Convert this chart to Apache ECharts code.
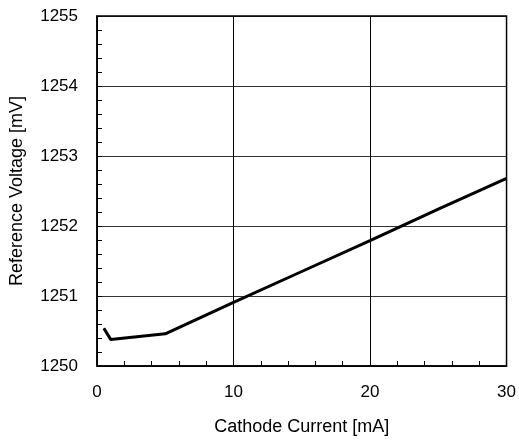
<!DOCTYPE html>
<html><head><meta charset="utf-8">
<script src="https://cdn.jsdelivr.net/npm/echarts@6/dist/echarts.min.js"></script>
<style>html,body{margin:0;padding:0;background:#fff}#c{width:519px;height:441px}</style>
</head><body><div id="c"></div>
<script>
var currentMA = [0.5, 1, 5, 10, 15, 20, 25, 30];
var voltageMV = [1250.54, 1250.38, 1250.46, 1250.91, 1251.35, 1251.79, 1252.24, 1252.68];
var xTitle = 'Cathode Current [mA]';
var yTitle = 'Reference Voltage [mV]';

var chart = echarts.init(document.getElementById('c'));
var font = 'Arial, "Liberation Sans", sans-serif';
chart.setOption({
  animation: false,
  grid: {left: 97, right: 12, top: 16, bottom: 74, show: true, borderColor: '#000', borderWidth: 1.5},
  xAxis: {
    type: 'value', min: 0, max: 30, interval: 10,
    name: xTitle, nameLocation: 'middle', nameGap: 52,
    nameTextStyle: {color: '#000', fontSize: 18, fontFamily: font},
    axisLine: {show: true, lineStyle: {color: '#000', width: 1.5}},
    axisTick: {show: true, inside: true, length: 5, lineStyle: {color: '#000'}},
    minorTick: {show: true, splitNumber: 5, length: 5, lineStyle: {color: '#000', width: 1}},
    axisLabel: {color: '#000', fontSize: 17, fontFamily: font, margin: 18},
    splitLine: {show: true, lineStyle: {color: '#000', width: 1}}
  },
  yAxis: {
    type: 'value', min: 1250, max: 1255, interval: 1,
    name: yTitle, nameLocation: 'middle', nameGap: 71,
    nameTextStyle: {color: '#000', fontSize: 18, fontFamily: font},
    axisLine: {show: true, lineStyle: {color: '#000', width: 1.5}},
    axisTick: {show: true, inside: true, length: 5, lineStyle: {color: '#000'}},
    minorTick: {show: true, splitNumber: 5, length: 5, lineStyle: {color: '#000', width: 1}},
    axisLabel: {color: '#000', fontSize: 17, fontFamily: font, margin: 19,
      formatter: function(v){ return String(v); }},
    splitLine: {show: true, lineStyle: {color: '#000', width: 0.8}}
  },
  series: [{
    type: 'line', symbol: 'none',
    data: currentMA.map(function(x, i){ return [x, voltageMV[i]]; }),
    lineStyle: {color: '#000', width: 3}
  }]
});
</script></body></html>
